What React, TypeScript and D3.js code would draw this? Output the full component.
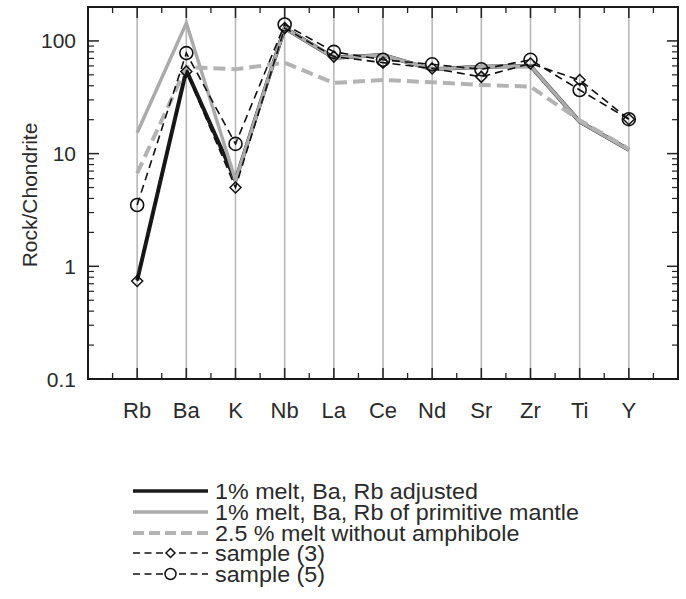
import React from "react";
import * as d3 from "d3";

// elements along the x axis
const elements = ["Rb", "Ba", "K", "Nb", "La", "Ce", "Nd", "Sr", "Zr", "Ti", "Y"];

// model melts (rock / chondrite)
const meltAdjusted = [0.75, 55, 5.8, 130, 71, 75, 56, 59, 60, 19.2, 10.8];
const meltPrimitive = [15.3, 144, 5.8, 130, 71, 75, 56, 59, 60, 19.2, 10.8];
const meltNoAmph = [6.7, 58.5, 56, 64, 42.4, 45, 43, 40.7, 39.3, 19.8, 11];

// samples
const sample3 = [0.74, 53.5, 5.0, 130, 72.6, 64.2, 57, 48, 63, 45, 20.2];
const sample5 = [3.5, 78, 12.2, 140, 80, 68, 62, 56, 68, 36.7, 20.2];

const yTickLabels = ["0.1", "1", "10", "100"];
const legendLabels = [
  "1% melt, Ba, Rb adjusted",
  "1% melt, Ba, Rb of primitive mantle",
  "2.5 % melt without amphibole",
  "sample (3)",
  "sample (5)",
];

const W = 686;
const H = 599;
const left = 88;
const right = 678;
const top = 7;
const bottom = 379;
const textColor = "#2a2a2a";
const font = "'Liberation Sans', Arial, sans-serif";

const Diamond = ({ x, y, s }: { x: number; y: number; s: number }) => (
  <path
    d={`M${x},${y - s}L${x + s},${y}L${x},${y + s}L${x - s},${y}Z`}
    fill="none"
    stroke="#111"
    strokeWidth={1.5}
  />
);

const App = () => {
  const x = d3.scaleLinear().domain([0, 12]).range([left, right]);
  const y = d3.scaleLog().domain([0.1, 200]).range([bottom, top]);
  const line = d3
    .line<number>()
    .x((_, i) => x(i + 1))
    .y((d) => y(d));

  const majors = [0.1, 1, 10, 100];
  const minors: number[] = [];
  [0.1, 1, 10, 100].forEach((dec) => {
    for (let k = 2; k <= 9; k++) {
      const v = dec * k;
      if (v <= 200) minors.push(v);
    }
  });
  const halfTicks = d3.range(0.5, 12, 1);

  const legendY = [491, 512, 533, 553, 574];
  const lx0 = 133;
  const lx1 = 208;

  return (
    <svg width={W} height={H} style={{ display: "block", position: "absolute", left: 0, top: 0 }}>
      <rect width={W} height={H} fill="#fff" />
      {/* vertical element lines */}
      {elements.map((e, i) => (
        <line key={e} x1={x(i + 1)} x2={x(i + 1)} y1={top} y2={bottom} stroke="#b8b8b8" strokeWidth={1.6} />
      ))}
      {/* y ticks left & right */}
      {majors.map((v) => (
        <g key={"M" + v}>
          <line x1={left} x2={left + 11} y1={y(v)} y2={y(v)} stroke="#222" strokeWidth={1.5} />
          <line x1={right} x2={right - 11} y1={y(v)} y2={y(v)} stroke="#222" strokeWidth={1.5} />
        </g>
      ))}
      {minors.map((v) => (
        <g key={"m" + v}>
          <line x1={left} x2={left + 6} y1={y(v)} y2={y(v)} stroke="#222" strokeWidth={1.2} />
          <line x1={right} x2={right - 6} y1={y(v)} y2={y(v)} stroke="#222" strokeWidth={1.2} />
        </g>
      ))}
      {/* x ticks top & bottom */}
      {elements.map((e, i) => (
        <g key={"xt" + e}>
          <line x1={x(i + 1)} x2={x(i + 1)} y1={top} y2={top + 11} stroke="#222" strokeWidth={1.5} />
          <line x1={x(i + 1)} x2={x(i + 1)} y1={bottom} y2={bottom - 11} stroke="#222" strokeWidth={1.5} />
        </g>
      ))}
      {halfTicks.map((t) => (
        <g key={"h" + t}>
          <line x1={x(t)} x2={x(t)} y1={top} y2={top + 6} stroke="#222" strokeWidth={1.3} />
          <line x1={x(t)} x2={x(t)} y1={bottom} y2={bottom - 6} stroke="#222" strokeWidth={1.3} />
        </g>
      ))}
      {/* series */}
      <path d={line(meltAdjusted) || ""} fill="none" stroke="#1a1a1a" strokeWidth={4} strokeLinejoin="miter" />
      <path d={line(meltPrimitive) || ""} fill="none" stroke="#ababab" strokeWidth={3.5} />
      <path d={line(meltNoAmph) || ""} fill="none" stroke="#b3b3b3" strokeWidth={4} strokeDasharray="12,6" />
      <path d={line(sample3) || ""} fill="none" stroke="#111" strokeWidth={1.6} strokeDasharray="8,5" />
      <path d={line(sample5) || ""} fill="none" stroke="#111" strokeWidth={1.6} strokeDasharray="8,5" />
      {sample3.map((v, i) => (
        <Diamond key={"d" + i} x={x(i + 1)} y={y(v)} s={5.5} />
      ))}
      {sample5.map((v, i) => (
        <circle key={"c" + i} cx={x(i + 1)} cy={y(v)} r={6.5} fill="none" stroke="#111" strokeWidth={1.6} />
      ))}
      {/* frame */}
      <rect x={left} y={top} width={right - left} height={bottom - top} fill="none" stroke="#1a1a1a" strokeWidth={2} />
      {/* labels */}
      {majors.map((v, i) => (
        <text key={"yl" + v} x={76} y={y(v)} dy="0.36em" textAnchor="end" fontSize={21} fontFamily={font} fill={textColor}>
          {yTickLabels[i]}
        </text>
      ))}
      {elements.map((e, i) => (
        <text key={"xl" + e} x={x(i + 1)} y={418} textAnchor="middle" fontSize={22} fontFamily={font} fill={textColor}>
          {e}
        </text>
      ))}
      <text
        transform={`translate(37,195) rotate(-90)`}
        textAnchor="middle"
        fontSize={21}
        fontFamily={font}
        fill={textColor}
      >
        Rock/Chondrite
      </text>
      {/* legend */}
      <g>
        <line x1={lx0} x2={lx1} y1={legendY[0]} y2={legendY[0]} stroke="#1a1a1a" strokeWidth={3.5} />
        <line x1={lx0} x2={lx1} y1={legendY[1]} y2={legendY[1]} stroke="#ababab" strokeWidth={3.5} />
        <line x1={lx0} x2={lx1} y1={legendY[2]} y2={legendY[2]} stroke="#b3b3b3" strokeWidth={4} strokeDasharray="11,5" />
        <line x1={lx0} x2={lx1} y1={legendY[3]} y2={legendY[3]} stroke="#111" strokeWidth={1.5} strokeDasharray="7,4.5" />
        <line x1={lx0} x2={lx1} y1={legendY[4]} y2={legendY[4]} stroke="#111" strokeWidth={1.5} strokeDasharray="7,4.5" />
        <rect x={(lx0 + lx1) / 2 - 7} y={legendY[3] - 6} width={14} height={12} fill="#fff" />
        <rect x={(lx0 + lx1) / 2 - 7} y={legendY[4] - 7} width={14} height={14} fill="#fff" />
        <Diamond x={(lx0 + lx1) / 2} y={legendY[3]} s={4.5} />
        <circle cx={(lx0 + lx1) / 2} cy={legendY[4]} r={5.5} fill="none" stroke="#111" strokeWidth={1.5} />
        {legendLabels.map((l, i) => (
          <text
            key={l}
            transform={`translate(215,${legendY[i]}) scale(1.06,1)`}
            dy="0.36em"
            fontSize={22}
            fontFamily={font}
            fill={textColor}
          >
            {l}
          </text>
        ))}
      </g>
    </svg>
  );
};

export default App;
